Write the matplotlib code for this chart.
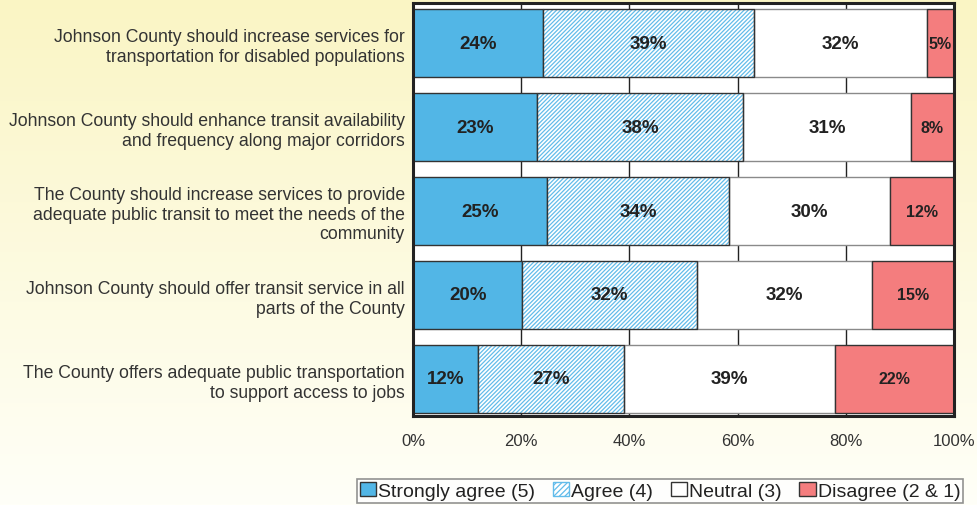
import matplotlib.pyplot as plt
import numpy as np
from matplotlib.patches import Patch

plt.rcParams["font.family"] = ["Liberation Sans", "DejaVu Sans"]
plt.rcParams["hatch.linewidth"] = 0.9

statements = [
    "Johnson County should increase services for\ntransportation for disabled populations",
    "Johnson County should enhance transit availability\nand frequency along major corridors",
    "The County should increase services to provide\nadequate public transit to meet the needs of the\ncommunity",
    "Johnson County should offer transit service in all\nparts of the County",
    "The County offers adequate public transportation\nto support access to jobs",
]
strongly_agree = [24, 23, 25, 20, 12]
agree = [39, 38, 34, 32, 27]
neutral = [32, 31, 30, 32, 39]
disagree = [5, 8, 12, 15, 22]

series_names = ["Strongly agree (5)", "Agree (4)", "Neutral (3)", "Disagree (2 & 1)"]
xticks = [0, 20, 40, 60, 80, 100]

fill_colors = ["#52b6e6", "white", "white", "#f47d7e"]
edge_colors = ["#333333", "#333333", "#8a8a8a", "#333333"]
label_sizes = [13.5, 13.5, 13.5, 11.5]
hatch_color = "#62bcea"
hatch = "////////"

fig = plt.figure(figsize=(9.77, 5.06), dpi=100)

# pale yellow to white vertical wash behind everything
bg = fig.add_axes([0, 0, 1, 1], zorder=-10)
grad = np.linspace(0, 1, 256).reshape(-1, 1)
top_col = np.array([250, 245, 196]) / 255
bot_col = np.array([255, 255, 248]) / 255
img = top_col * (1 - grad[..., None]) + bot_col * grad[..., None]
bg.imshow(img, aspect="auto", extent=[0, 1, 0, 1])
bg.axis("off")

ax = fig.add_axes([0.4227, 0.176, 0.5538, 0.816])
ax.set_facecolor("white")

data = np.array([strongly_agree, agree, neutral, disagree], dtype=float)
shares = data / data.sum(axis=0) * 100
ypos = np.arange(len(statements))
left = np.zeros(len(statements))

for i in range(4):
    if i == 1:
        # hatched fill first, then a dark outline over it
        ax.barh(ypos, shares[i], left=left, height=0.82, color="white",
                edgecolor=hatch_color, hatch=hatch, linewidth=0, zorder=3)
        bars = ax.barh(ypos, shares[i], left=left, height=0.82, color="none",
                       edgecolor="#333333", linewidth=1.0, zorder=4)
    else:
        bars = ax.barh(ypos, shares[i], left=left, height=0.82,
                       color=fill_colors[i], edgecolor=edge_colors[i],
                       linewidth=1.0, zorder=3)
    for j, b in enumerate(bars):
        ax.text(left[j] + shares[i][j] / 2, ypos[j], f"{data[i][j]:.0f}%",
                ha="center", va="center", fontsize=label_sizes[i],
                fontweight="bold", color="#222222", zorder=5)
    left += shares[i]

ax.set_xlim(0, 100)
ax.set_ylim(4.44, -0.476)
ax.set_xticks(xticks)
ax.set_xticklabels([f"{t}%" for t in xticks])
ax.set_yticks(ypos)
ax.set_yticklabels(statements)
ax.tick_params(axis="both", length=0, labelcolor="#333333")
ax.tick_params(axis="x", labelsize=12, pad=12)
ax.tick_params(axis="y", labelsize=12.7, pad=6)
for lbl in ax.get_yticklabels():
    lbl.set_multialignment("right")

ax.xaxis.grid(True, color="#222222", linewidth=1.0, zorder=0)
ax.set_axisbelow(True)
for sp in ax.spines.values():
    sp.set_linewidth(2.2)
    sp.set_color("#222222")
    sp.set_zorder(6)

handles = [
    Patch(facecolor=fill_colors[0], edgecolor="#333333", label=series_names[0]),
    Patch(facecolor="white", edgecolor=hatch_color, hatch="//////", label=series_names[1]),
    Patch(facecolor="white", edgecolor="#333333", label=series_names[2]),
    Patch(facecolor=fill_colors[3], edgecolor="#333333", label=series_names[3]),
]
leg = fig.legend(
    handles=handles,
    loc="lower right",
    bbox_to_anchor=(0.988, 0.0),
    ncol=4,
    fontsize=14,
    frameon=True,
    fancybox=False,
    edgecolor="#777777",
    handlelength=0.85,
    handleheight=0.75,
    handletextpad=0.1,
    columnspacing=0.9,
    borderpad=0.15,
    borderaxespad=0.1,
)
leg.get_frame().set_linewidth(1.2)
for t in leg.get_texts():
    t.set_color("#222222")

fig.savefig("out.png", dpi=100)
